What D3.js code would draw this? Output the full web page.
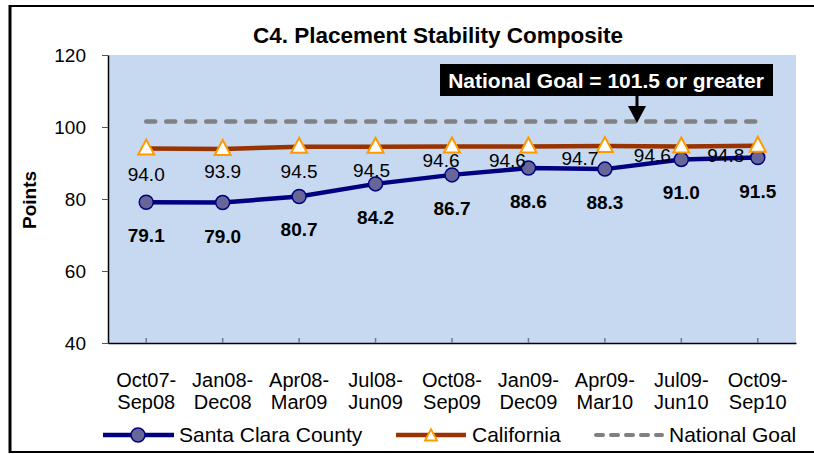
<!DOCTYPE html>
<html>
<head>
<meta charset="utf-8">
<script src="https://cdn.jsdelivr.net/npm/d3@7"></script>
<style>
  body { margin: 0; background: #fff; }
  svg { display: block; font-family: "Liberation Sans", Arial, sans-serif; }
</style>
</head>
<body>
<div id="chart"></div>
<script>
// Chart data
const categories = [
  ["Oct07-", "Sep08"], ["Jan08-", "Dec08"], ["Apr08-", "Mar09"],
  ["Jul08-", "Jun09"], ["Oct08-", "Sep09"], ["Jan09-", "Dec09"],
  ["Apr09-", "Mar10"], ["Jul09-", "Jun10"], ["Oct09-", "Sep10"]
];
const santaClara = [79.1, 79.0, 80.7, 84.2, 86.7, 88.6, 88.3, 91.0, 91.5];
const california = [94.0, 93.9, 94.5, 94.5, 94.6, 94.6, 94.7, 94.6, 94.8];
const nationalGoal = 101.5;
const yTicks = [40, 60, 80, 100, 120];
const seriesNames = ["Santa Clara County", "California", "National Goal"];

// label nudges for the California labels (as placed in the original)
const caLabelDx = [0, 0, 0, -4, -11, -21, -25, -29, -32];
const caLabelDy = [32, 29, 31, 30, 21, 21, 19, 16, 16];

const W = 814, H = 454;
const plot = { left: 108, right: 796, top: 55, bottom: 343 };

const svg = d3.select('#chart').append('svg')
  .attr('width', W).attr('height', H);

// outer frame
svg.append('line').attr('x1', 10).attr('x2', 10).attr('y1', 5).attr('y2', 453)
  .attr('stroke', '#000').attr('stroke-width', 3);
svg.append('line').attr('x1', 9).attr('x2', W).attr('y1', 6).attr('y2', 6)
  .attr('stroke', '#000').attr('stroke-width', 2);
svg.append('line').attr('x1', 9).attr('x2', W).attr('y1', 452).attr('y2', 452)
  .attr('stroke', '#000').attr('stroke-width', 2);

const keys = categories.map(d => d.join(' '));
const x = d3.scaleBand().domain(keys).range([plot.left, plot.right]);
const y = d3.scaleLinear().domain([40, 120]).range([plot.bottom, plot.top]);
const cx = i => x(keys[i]) + x.bandwidth() / 2;

// plot area
svg.append('rect')
  .attr('x', plot.left).attr('y', plot.top)
  .attr('width', plot.right - plot.left).attr('height', plot.bottom - plot.top)
  .attr('fill', '#C6D9F0');

// title
svg.append('text')
  .attr('x', 438).attr('y', 43)
  .attr('text-anchor', 'middle')
  .attr('font-size', 22.5).attr('font-weight', 'bold')
  .text('C4. Placement Stability Composite');

// y axis
const yAxis = svg.append('g')
  .attr('transform', `translate(${plot.left},0)`)
  .call(d3.axisLeft(y).tickValues(yTicks).tickSizeOuter(0).tickSizeInner(6).tickPadding(16));
yAxis.select('.domain').attr('stroke', '#000').attr('stroke-width', 1.5);
yAxis.selectAll('.tick line').attr('stroke', '#555');
yAxis.selectAll('.tick text').attr('font-size', 19).attr('fill', '#000')
  .attr('font-family', '"Liberation Sans", Arial, sans-serif');

svg.append('text')
  .attr('transform', 'translate(36,200) rotate(-90)')
  .attr('text-anchor', 'middle')
  .attr('font-size', 19).attr('font-weight', 'bold')
  .text('Points');

// x axis
const xAxis = svg.append('g')
  .attr('transform', `translate(0,${plot.bottom})`)
  .call(d3.axisBottom(x).tickSizeInner(-5).tickSizeOuter(0).tickFormat(''));
xAxis.select('.domain').attr('stroke', '#000').attr('stroke-width', 1.5);
xAxis.selectAll('.tick line').attr('stroke', '#6b7a8f').attr('stroke-width', 1.5);

const xLabels = svg.append('g').selectAll('text')
  .data(categories).enter().append('text')
  .attr('text-anchor', 'middle')
  .attr('font-size', 20)
  .attr('x', (d, i) => cx(i));
xLabels.append('tspan').attr('x', (d, i) => cx(i)).attr('y', 387).text(d => d[0]);
xLabels.append('tspan').attr('x', (d, i) => cx(i)).attr('y', 409).text(d => d[1]);

// national goal line
svg.append('line')
  .attr('x1', cx(0)).attr('x2', cx(categories.length - 1))
  .attr('y1', y(nationalGoal)).attr('y2', y(nationalGoal))
  .attr('stroke', '#808080').attr('stroke-width', 4.5)
  .attr('stroke-linecap', 'round').attr('stroke-dasharray', '9,11');

const line = d3.line().x((d, i) => cx(i)).y(d => y(d));

// Santa Clara series
svg.append('path').datum(santaClara)
  .attr('d', line).attr('fill', 'none')
  .attr('stroke', '#000080').attr('stroke-width', 4.5);
svg.append('g').selectAll('circle')
  .data(santaClara).enter().append('circle')
  .attr('cx', (d, i) => cx(i)).attr('cy', d => y(d)).attr('r', 7)
  .attr('fill', '#666699').attr('stroke', '#000080').attr('stroke-width', 1.5);

// California series
svg.append('path').datum(california)
  .attr('d', line).attr('fill', 'none')
  .attr('stroke', '#993300').attr('stroke-width', 4.5);
const tri = 'M0,-9L8,6L-8,6Z';
svg.append('g').selectAll('path')
  .data(california).enter().append('path')
  .attr('d', tri)
  .attr('transform', (d, i) => `translate(${cx(i)},${y(d)})`)
  .attr('fill', '#fff').attr('stroke', '#FF9900').attr('stroke-width', 2);

// data labels
svg.append('g').selectAll('text')
  .data(california).enter().append('text')
  .attr('text-anchor', 'middle').attr('font-size', 19)
  .attr('x', (d, i) => cx(i) + caLabelDx[i])
  .attr('y', (d, i) => y(d) + caLabelDy[i])
  .text(d => d.toFixed(1));
svg.append('g').selectAll('text')
  .data(santaClara).enter().append('text')
  .attr('text-anchor', 'middle').attr('font-size', 19).attr('font-weight', 'bold')
  .attr('x', (d, i) => cx(i))
  .attr('y', d => y(d) + 40)
  .text(d => d.toFixed(1));

// annotation
const note = svg.append('g');
note.append('rect').attr('x', 440).attr('y', 64).attr('width', 333).attr('height', 32)
  .attr('fill', '#000');
note.append('text').attr('x', 606).attr('y', 88)
  .attr('text-anchor', 'middle').attr('fill', '#fff')
  .attr('font-size', 21).attr('font-weight', 'bold')
  .text('National Goal = ' + nationalGoal + ' or greater');
note.append('line').attr('x1', 637).attr('x2', 637).attr('y1', 96).attr('y2', 108)
  .attr('stroke', '#000').attr('stroke-width', 3);
note.append('path').attr('d', 'M628,106L646,106L637,123Z').attr('fill', '#000');

// legend
const legendY = 435;
const legend = svg.append('g');
legend.append('line').attr('x1', 103).attr('x2', 174).attr('y1', legendY).attr('y2', legendY)
  .attr('stroke', '#000080').attr('stroke-width', 4.5);
legend.append('circle').attr('cx', 138).attr('cy', legendY).attr('r', 7)
  .attr('fill', '#666699').attr('stroke', '#000080').attr('stroke-width', 1.5);
legend.append('text').attr('x', 179).attr('y', legendY + 7).attr('font-size', 21).text(seriesNames[0]);

legend.append('line').attr('x1', 396).attr('x2', 466).attr('y1', legendY).attr('y2', legendY)
  .attr('stroke', '#993300').attr('stroke-width', 4.5);
legend.append('path').attr('d', tri).attr('transform', `translate(431,${legendY + 1}) scale(0.75)`)
  .attr('fill', '#fff').attr('stroke', '#FF9900').attr('stroke-width', 2.5);
legend.append('text').attr('x', 472).attr('y', legendY + 7).attr('font-size', 21).text(seriesNames[1]);

legend.append('line').attr('x1', 596).attr('x2', 662).attr('y1', legendY).attr('y2', legendY)
  .attr('stroke', '#808080').attr('stroke-width', 4)
  .attr('stroke-linecap', 'round').attr('stroke-dasharray', '7,8');
legend.append('text').attr('x', 669).attr('y', legendY + 7).attr('font-size', 21).text(seriesNames[2]);
</script>
</body>
</html>
